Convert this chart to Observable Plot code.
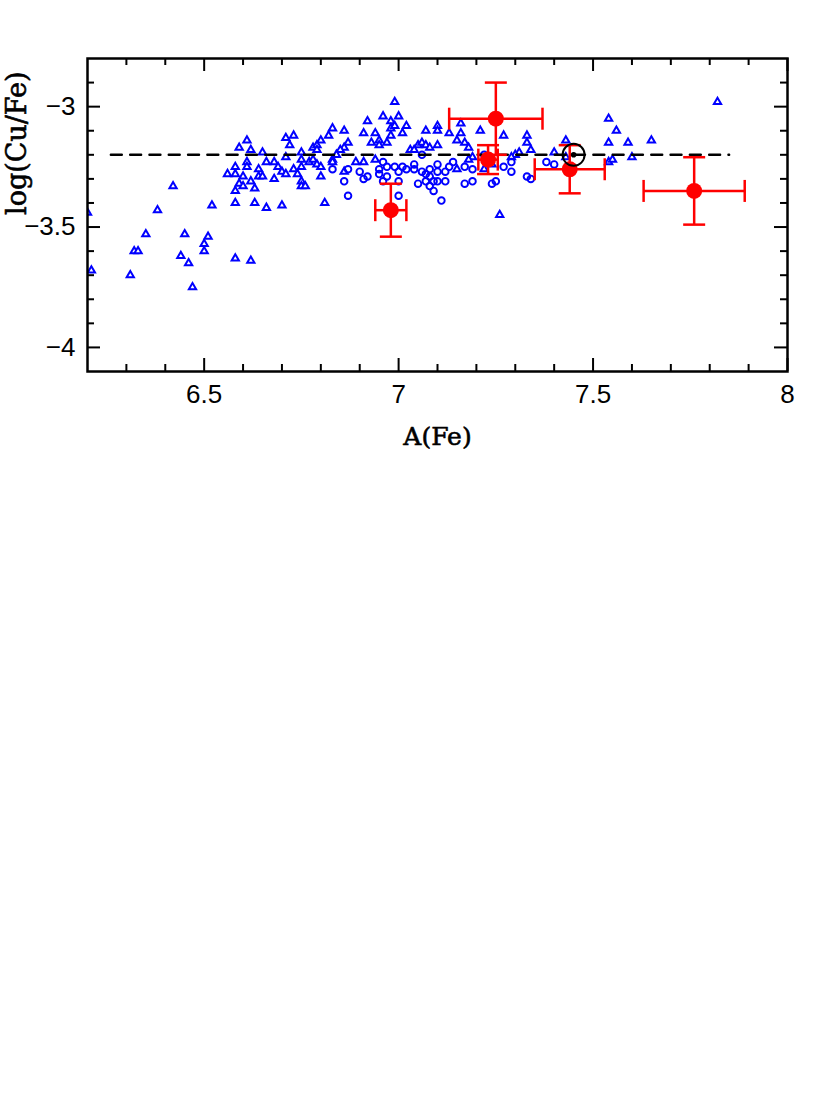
<!DOCTYPE html>
<html>
<head>
<meta charset="utf-8">
<script src="https://cdn.jsdelivr.net/npm/d3@7"></script>
<script src="https://cdn.jsdelivr.net/npm/@observablehq/plot@0.6"></script>
<style>
  html, body { margin: 0; padding: 0; background: #fff; }
  #chart svg { display: block; }
</style>
</head>
<body>
<div id="chart"></div>
<script>
// ---- axes ----
const xDomain = [6.2, 8];
const yDomain = [-4.1, -2.8];
const xMajorTicks = [6.5, 7, 7.5, 8];
const xMinorTicks = [6.3, 6.4, 6.6, 6.7, 6.8, 6.9, 7.1, 7.2, 7.3, 7.4, 7.6, 7.7, 7.8, 7.9];
const yMajorTicks = [-4, -3.5, -3];
const yMinorTicks = [-3.9, -3.8, -3.7, -3.6, -3.4, -3.3, -3.2, -3.1, -2.9];
const xTickLabels = ["6.5", "7", "7.5", "8"];
const yTickLabels = ["\u22124", "\u22123.5", "\u22123"];
const xLabel = "A(Fe)";
const yLabel = "log(Cu/Fe)";

// ---- open triangles (blue) ----
const triX = [6.20, 6.21, 6.31, 6.32, 6.33, 6.35, 6.38, 6.42, 6.45, 6.44, 6.46, 6.47, 6.51, 6.50, 6.50, 6.52,
  6.58, 6.62, 6.58, 6.63, 6.66, 6.70, 6.81, 6.58, 6.56, 6.58, 6.58, 6.59, 6.61, 6.62, 6.61, 6.61,
  6.60, 6.59, 6.60, 6.62, 6.63, 6.64, 6.64, 6.65, 6.65, 6.66, 6.68, 6.69, 6.70, 6.71, 6.68, 6.71,
  6.73, 6.72, 6.71, 6.73, 6.74, 6.75, 6.75, 6.75, 6.75, 6.75, 6.76, 6.77, 6.78, 6.78, 6.79, 6.80,
  6.79, 6.79, 6.80, 6.80, 6.99, 6.92, 6.96, 6.98, 7.00, 6.83, 6.86, 6.82, 6.91, 6.94, 6.98, 6.99,
  7.02, 7.01, 6.98, 6.87, 6.86, 6.85, 6.84, 6.93, 6.95, 6.95, 6.97, 7.05, 7.06, 7.07, 7.08, 7.03,
  7.04, 6.83, 6.83, 6.89, 6.91, 6.94, 6.86, 7.10, 7.10, 7.07, 7.13, 7.16, 7.16, 7.15, 7.21, 7.27,
  7.33, 7.33, 7.34, 7.31, 7.10, 7.17, 7.18, 7.19, 7.18, 7.23, 7.24, 7.22, 7.30, 7.29, 7.15, 7.26,
  7.40, 7.43, 7.43, 7.54, 7.56, 7.54, 7.59, 7.60, 7.54, 7.55, 7.82, 7.65];
const triY = [-3.44, -3.68, -3.70, -3.60, -3.60, -3.53, -3.43, -3.33, -3.53, -3.62, -3.65, -3.75, -3.54, -3.57, -3.60, -3.41,
  -3.63, -3.64, -3.40, -3.40, -3.42, -3.41, -3.40, -3.35, -3.28, -3.28, -3.25, -3.17, -3.14, -3.18, -3.23, -3.25,
  -3.29, -3.32, -3.33, -3.31, -3.34, -3.26, -3.29, -3.29, -3.19, -3.23, -3.23, -3.25, -3.27, -3.28, -3.30, -3.13,
  -3.12, -3.16, -3.21, -3.26, -3.28, -3.19, -3.22, -3.25, -3.31, -3.33, -3.33, -3.23, -3.22, -3.17, -3.16, -3.14,
  -3.18, -3.24, -3.25, -3.29, -2.98, -3.06, -3.04, -3.06, -3.04, -3.09, -3.10, -3.12, -3.11, -3.11, -3.09, -3.08,
  -3.08, -3.11, -3.12, -3.15, -3.17, -3.18, -3.20, -3.15, -3.14, -3.16, -3.15, -3.16, -3.15, -3.16, -3.17, -3.18,
  -3.18, -3.22, -3.23, -3.23, -3.23, -3.22, -3.27, -3.08, -3.10, -3.10, -3.11, -3.07, -3.11, -3.14, -3.10, -3.12,
  -3.12, -3.15, -3.18, -3.19, -3.16, -3.15, -3.17, -3.21, -3.22, -3.22, -3.24, -3.26, -3.20, -3.21, -3.26, -3.45,
  -3.19, -3.14, -3.21, -3.05, -3.10, -3.15, -3.15, -3.21, -3.23, -3.22, -2.98, -3.14];

// ---- open circles (blue) ----
const circX = [6.83, 6.87, 6.86, 6.90, 6.91, 6.92, 6.87, 6.95, 6.96, 6.97, 6.95, 6.99, 7.00, 7.00, 6.97, 6.96,
  7.00, 7.02, 7.04, 7.04, 7.06, 7.06, 7.05, 7.01, 7.07, 7.10, 7.08, 7.10, 7.12, 7.14, 7.13, 7.17,
  7.19, 7.08, 7.07, 7.09, 7.10, 7.12, 7.08, 7.09, 7.11, 7.17, 7.19, 7.24, 7.25, 7.22, 7.27, 7.29,
  7.29, 7.33, 7.34, 7.38, 7.40];
const circY = [-3.26, -3.26, -3.31, -3.27, -3.30, -3.29, -3.37, -3.26, -3.23, -3.25, -3.28, -3.25, -3.27, -3.31, -3.29, -3.31,
  -3.37, -3.26, -3.26, -3.24, -3.20, -3.27, -3.32, -3.25, -3.28, -3.24, -3.26, -3.27, -3.27, -3.23, -3.25, -3.25,
  -3.26, -3.29, -3.31, -3.31, -3.31, -3.31, -3.33, -3.35, -3.39, -3.32, -3.31, -3.32, -3.31, -3.20, -3.25, -3.27,
  -3.23, -3.29, -3.30, -3.23, -3.24];

// ---- red points with error bars ----
const obsX = [6.98, 7.25, 7.23, 7.44, 7.76];
const obsY = [-3.43, -3.05, -3.22, -3.26, -3.35];
const obsErrX = [0.04, 0.12, 0.025, 0.09, 0.13];
const obsErrY = [0.11, 0.15, 0.06, 0.10, 0.14];

// ---- solar value and reference line ----
const solarX = [7.45];
const solarY = [-3.2];
const refLineX = [6.26, 7.85];
const refLineY = [-3.2, -3.2];

// ---- build tables ----
const tri = triX.map((x, i) => ({x, y: triY[i]}));
const circ = circX.map((x, i) => ({x, y: circY[i]}));
const obs = obsX.map((x, i) => ({x, y: obsY[i], ex: obsErrX[i], ey: obsErrY[i]}));
const solar = solarX.map((x, i) => ({x, y: solarY[i]}));
const refLine = refLineX.map((x, i) => ({x, y: refLineY[i]}));

const W = 830, H = 460;
const mL = 87, mR = 43, mT = 58, mB = 89;
const pw = W - mL - mR, ph = H - mT - mB;
const majorLen = 13, minorLen = 7;

const hCap = {draw(ctx) { ctx.moveTo(-11, 0); ctx.lineTo(11, 0); }};
const vCap = {draw(ctx) { ctx.moveTo(0, -11); ctx.lineTo(0, 11); }};

const tickFont = "'Liberation Sans', Arial, Helvetica, sans-serif";
const labelFont = "'DejaVu Serif', 'Liberation Serif', serif";

const chart = Plot.plot({
  width: W, height: H,
  marginLeft: mL, marginRight: mR, marginTop: mT, marginBottom: mB,
  x: {domain: xDomain, axis: null},
  y: {domain: yDomain, axis: null},
  style: {background: "#fff"},
  marks: [
    // blue data
    Plot.dot(tri, {x: "x", y: "y", symbol: "triangle", r: 2.7, stroke: "#0000ff", strokeWidth: 2, fill: "#fff", clip: true}),
    Plot.dot(circ, {x: "x", y: "y", symbol: "circle", r: 3.3, stroke: "#0000ff", strokeWidth: 1.9, fill: "none", clip: true}),
    // dashed reference
    Plot.line(refLine, {x: "x", y: "y", stroke: "#000", strokeWidth: 2.4, strokeDasharray: "11,8.3"}),
    // red error bars
    Plot.ruleX(obs, {x: "x", y1: d => d.y - d.ey, y2: d => d.y + d.ey, stroke: "#ff0000", strokeWidth: 2.5}),
    Plot.ruleY(obs, {y: "y", x1: d => d.x - d.ex, x2: d => d.x + d.ex, stroke: "#ff0000", strokeWidth: 2.5}),
    Plot.dot(obs, {x: "x", y: d => d.y - d.ey, symbol: hCap, stroke: "#ff0000", strokeWidth: 2.5, fill: "none"}),
    Plot.dot(obs, {x: "x", y: d => d.y + d.ey, symbol: hCap, stroke: "#ff0000", strokeWidth: 2.5, fill: "none"}),
    Plot.dot(obs, {x: d => d.x - d.ex, y: "y", symbol: vCap, stroke: "#ff0000", strokeWidth: 2.5, fill: "none"}),
    Plot.dot(obs, {x: d => d.x + d.ex, y: "y", symbol: vCap, stroke: "#ff0000", strokeWidth: 2.5, fill: "none"}),
    Plot.dot(obs, {x: "x", y: "y", r: 8, fill: "#ff0000", stroke: "none"}),
    // solar symbol
    Plot.dot(solar, {x: "x", y: "y", r: 11, stroke: "#000", strokeWidth: 2, fill: "none"}),
    Plot.dot(solar, {x: "x", y: "y", r: 2.8, fill: "#000", stroke: "none"}),
    // frame
    Plot.frame({stroke: "#000", strokeWidth: 2.5}),
    // inward ticks: bottom / top
    Plot.tickX(xMajorTicks, {x: d => d, insetTop: ph - majorLen, stroke: "#000", strokeWidth: 2}),
    Plot.tickX(xMajorTicks, {x: d => d, insetBottom: ph - majorLen, stroke: "#000", strokeWidth: 2}),
    Plot.tickX(xMinorTicks, {x: d => d, insetTop: ph - minorLen, stroke: "#000", strokeWidth: 2}),
    Plot.tickX(xMinorTicks, {x: d => d, insetBottom: ph - minorLen, stroke: "#000", strokeWidth: 2}),
    // inward ticks: left / right
    Plot.tickY(yMajorTicks, {y: d => d, insetRight: pw - majorLen, stroke: "#000", strokeWidth: 2}),
    Plot.tickY(yMajorTicks, {y: d => d, insetLeft: pw - majorLen, stroke: "#000", strokeWidth: 2}),
    Plot.tickY(yMinorTicks, {y: d => d, insetRight: pw - minorLen, stroke: "#000", strokeWidth: 2}),
    Plot.tickY(yMinorTicks, {y: d => d, insetLeft: pw - minorLen, stroke: "#000", strokeWidth: 2}),
    // tick labels
    Plot.text(xMajorTicks, {x: d => d, text: (d, i) => xTickLabels[i], frameAnchor: "bottom", dy: 23,
      lineAnchor: "middle", fontSize: 26, fontFamily: tickFont, fill: "#000"}),
    Plot.text(yMajorTicks, {y: d => d, text: (d, i) => yTickLabels[i], frameAnchor: "left", dx: -12,
      textAnchor: "end", lineAnchor: "middle", fontSize: 26, fontFamily: tickFont, fill: "#000"}),
    // axis labels
    Plot.text([xLabel], {text: d => d, frameAnchor: "bottom", dy: 65, lineAnchor: "middle",
      fontSize: 25, fontFamily: labelFont, fill: "#000", stroke: "#000", strokeWidth: 0.6}),
    Plot.text([yLabel], {text: d => d, frameAnchor: "left", dx: -70, rotate: -90, lineAnchor: "middle",
      fontSize: 27, fontFamily: labelFont, fill: "#000", stroke: "#000", strokeWidth: 0.6})
  ]
});
document.getElementById("chart").appendChild(chart);
</script>
</body>
</html>
